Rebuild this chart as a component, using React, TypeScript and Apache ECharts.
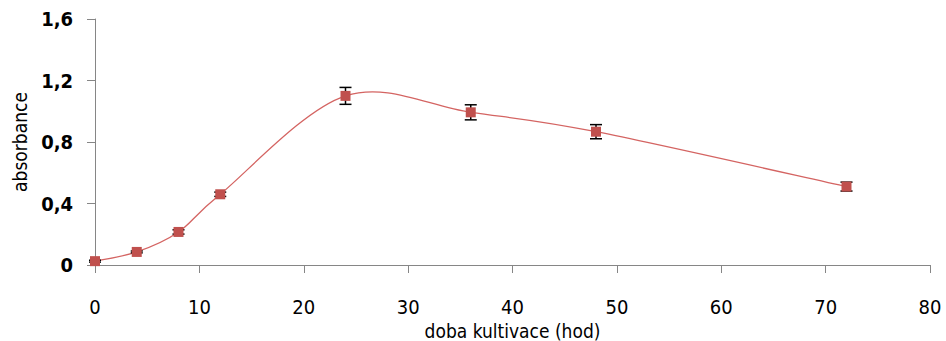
import React, { useEffect, useRef } from "react";
import * as echarts from "echarts";

const hours = [0, 4, 8, 12, 24, 36, 48, 72];
const absorbance = [0.025, 0.085, 0.215, 0.46, 1.1, 0.993, 0.867, 0.51];
const errors = [0.006, 0.006, 0.014, 0.014, 0.055, 0.049, 0.046, 0.029];
const xTicks = [0, 10, 20, 30, 40, 50, 60, 70, 80];
const yTicks = [0, 0.4, 0.8, 1.2, 1.6];

export default function App() {
  const ref = useRef<HTMLDivElement>(null);
  useEffect(() => {
    if (!ref.current) return;
    const chart = echarts.init(ref.current, null, { renderer: "svg" });
    const pts = hours.map((h, i) => [h, absorbance[i]]);
    const errData = hours.map((h, i) => [h, absorbance[i] - errors[i], absorbance[i] + errors[i]]);
    const segData = hours.slice(0, -1).map((h, i) => [i]);
    const axisColor = "#868686";
    const font = "'Liberation Sans Narrow', 'DejaVu Sans Condensed', sans-serif";
    chart.setOption({
      animation: false,
      grid: { left: 95, right: 16, top: 19, bottom: 76, containLabel: false, outerBoundsMode: "none" },
      xAxis: {
        type: "value",
        min: xTicks[0],
        max: xTicks[xTicks.length - 1],
        interval: 10,
        name: "doba kultivace (hod)",
        nameLocation: "middle",
        nameGap: 50,
        nameTextStyle: { fontFamily: font, fontSize: 19, color: "#000" },
        axisLine: { lineStyle: { color: axisColor, width: 1 } },
        axisTick: { show: true, length: 8, lineStyle: { color: axisColor } },
        axisLabel: { margin: 32, fontFamily: font, fontSize: 20, color: "#000" },
        splitLine: { show: false },
      },
      yAxis: {
        type: "value",
        min: yTicks[0],
        max: yTicks[yTicks.length - 1],
        interval: 0.4,
        name: "absorbance",
        nameLocation: "middle",
        nameGap: 66,
        nameTextStyle: { fontFamily: font, fontSize: 19, color: "#000" },
        axisLine: { show: true, lineStyle: { color: axisColor, width: 1 } },
        axisTick: { show: true, length: 8, lineStyle: { color: axisColor } },
        axisLabel: {
          margin: 22,
          fontFamily: font,
          fontSize: 20,
          fontWeight: "bold",
          color: "#000",
          formatter: (v: number) => (Math.round(v * 10) / 10).toString().replace(".", ","),
        },
        splitLine: { show: false },
      },
      series: [
        {
          type: "custom",
          data: segData,
          z: 2,
          silent: true,
          renderItem: (params: any, api: any) => {
            const i = api.value(0);
            const n = hours.length;
            const c = (k: number) => {
              const kk = Math.max(0, Math.min(n - 1, k));
              return api.coord([hours[kk], absorbance[kk]]);
            };
            const p0 = c(i - 1), p1 = c(i), p2 = c(i + 1), p3 = c(i + 2);
            const t = 6;
            return {
              type: "bezierCurve",
              shape: {
                x1: p1[0],
                y1: p1[1],
                x2: p2[0],
                y2: p2[1],
                cpx1: p1[0] + (p2[0] - p0[0]) / t,
                cpy1: p1[1] + (p2[1] - p0[1]) / t,
                cpx2: p2[0] - (p3[0] - p1[0]) / t,
                cpy2: p2[1] - (p3[1] - p1[1]) / t,
              },
              style: { stroke: "#D46462", lineWidth: 1.3, fill: null },
            };
          },
        },
        {
          type: "custom",
          data: errData,
          z: 3,
          renderItem: (params: any, api: any) => {
            const x = api.value(0);
            const lo = api.coord([x, api.value(1)]);
            const hi = api.coord([x, api.value(2)]);
            const w = 6;
            const style = { stroke: "#000", lineWidth: 1.5 };
            return {
              type: "group",
              children: [
                { type: "line", shape: { x1: lo[0], y1: lo[1], x2: hi[0], y2: hi[1] }, style },
                { type: "line", shape: { x1: lo[0] - w, y1: lo[1], x2: lo[0] + w, y2: lo[1] }, style },
                { type: "line", shape: { x1: hi[0] - w, y1: hi[1], x2: hi[0] + w, y2: hi[1] }, style },
              ],
            };
          },
        },
        {
          type: "scatter",
          data: pts,
          symbol: "rect",
          symbolSize: 10,
          z: 4,
          itemStyle: { color: "#C0504D", borderWidth: 0, opacity: 1 },
        },
      ],
    });
    return () => chart.dispose();
  }, []);
  return (
    <div
      ref={ref}
      style={{ position: "fixed", left: 0, top: 0, width: 946, height: 341, background: "#fff" }}
    />
  );
}
